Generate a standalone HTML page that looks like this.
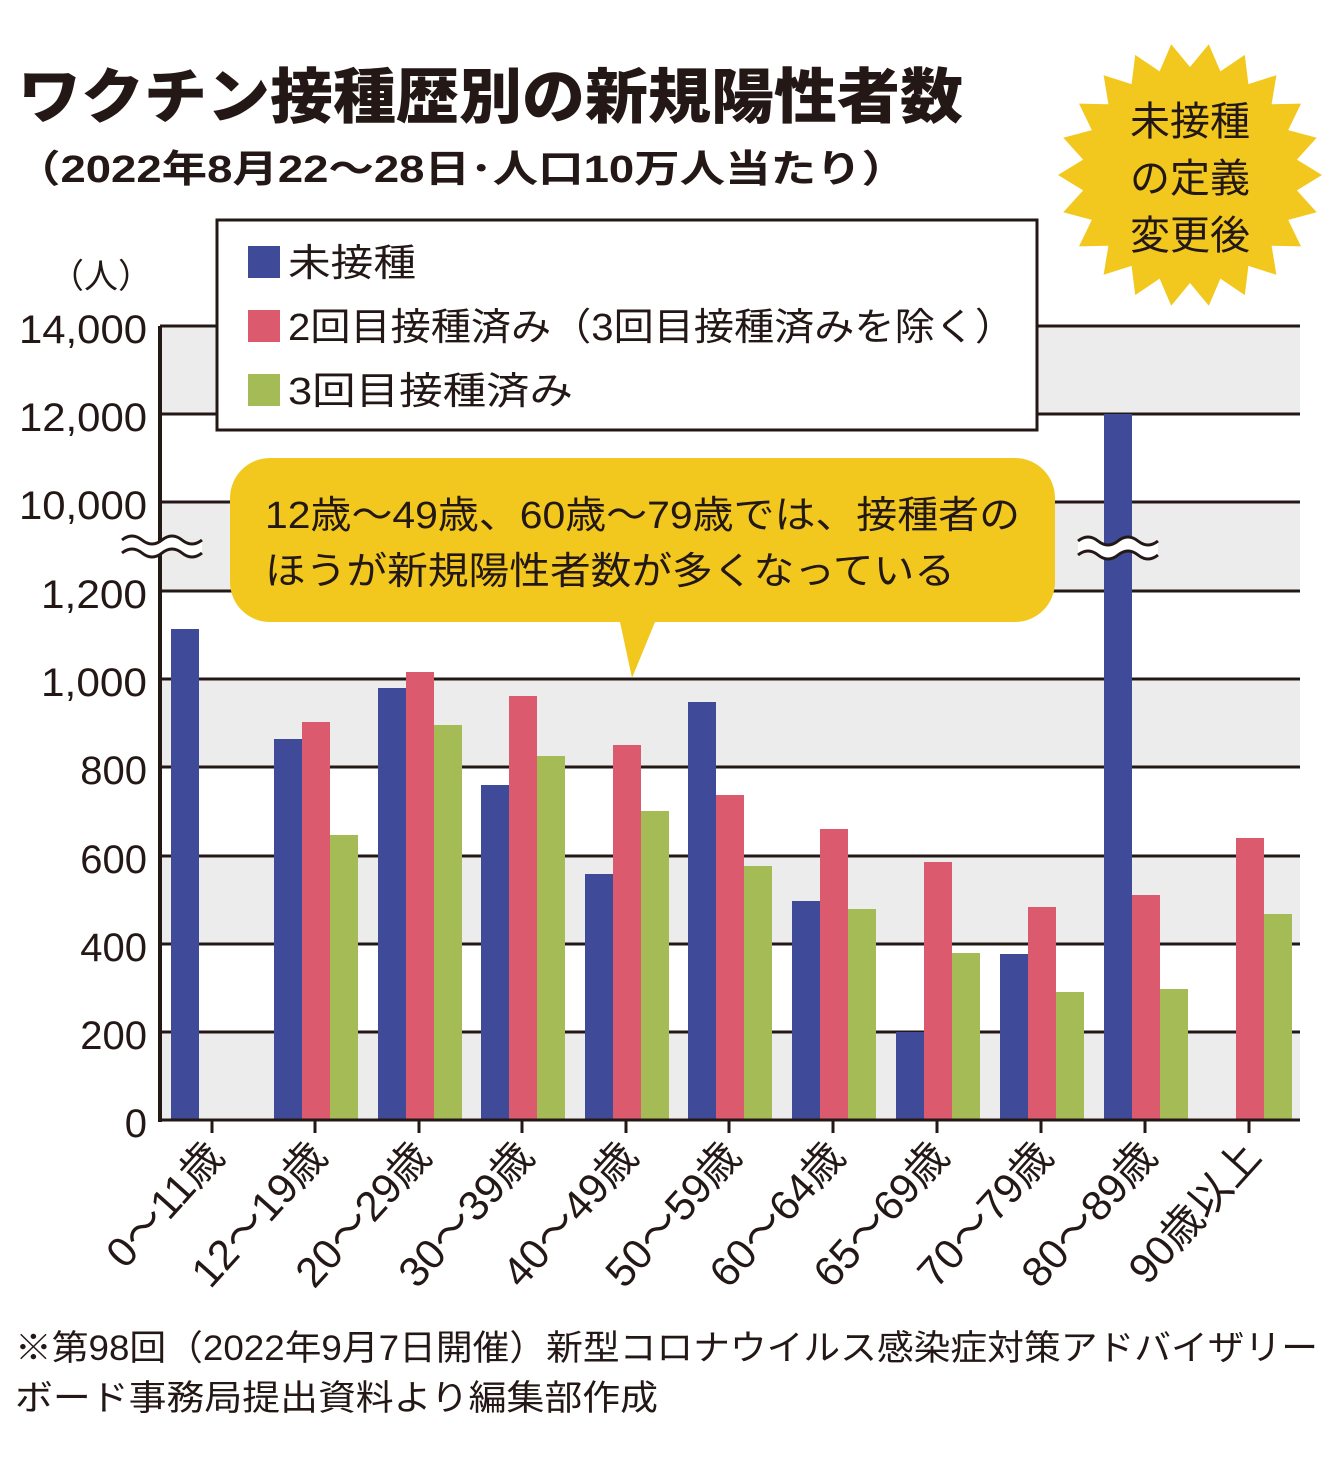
<!DOCTYPE html><html><head><meta charset="utf-8"><style>body{margin:0;background:#fff}svg{display:block}text{font-family:"Liberation Sans","Noto Sans CJK JP",sans-serif;fill:#231815}</style></head><body>
<svg width="1340" height="1470" viewBox="0 0 1340 1470">
<text x="18" y="118" font-size="60" textLength="945" lengthAdjust="spacingAndGlyphs" style="font-family:'Noto Sans CJK JP',sans-serif;font-weight:900">ワクチン接種歴別の新規陽性者数</text>
<text x="15" y="182" font-size="38" font-weight="bold" textLength="892" lengthAdjust="spacingAndGlyphs">（2022年8月22〜28日･人口10万人当たり）</text>
<polygon id="star" fill="#f2c81f" points=""/>
<g id="bands">
<rect x="160" y="326" width="1140" height="88" fill="#ececec"/>
<rect x="160" y="502" width="1140" height="89" fill="#ececec"/>
<rect x="160" y="679" width="1140" height="88" fill="#ececec"/>
<rect x="160" y="856" width="1140" height="88" fill="#ececec"/>
<rect x="160" y="1032" width="1140" height="88" fill="#ececec"/>
</g>
<g stroke="#231815" stroke-width="3">
<line x1="160" x2="1300" y1="326" y2="326"/><line x1="160" x2="1300" y1="414" y2="414"/><line x1="160" x2="1300" y1="502" y2="502"/><line x1="160" x2="1300" y1="591" y2="591"/><line x1="160" x2="1300" y1="679" y2="679"/><line x1="160" x2="1300" y1="767" y2="767"/><line x1="160" x2="1300" y1="856" y2="856"/><line x1="160" x2="1300" y1="944" y2="944"/><line x1="160" x2="1300" y1="1032" y2="1032"/>
</g>
<g font-size="40" text-anchor="end">
<text x="147" y="343" textLength="128" lengthAdjust="spacingAndGlyphs">14,000</text><text x="147" y="431" textLength="128" lengthAdjust="spacingAndGlyphs">12,000</text><text x="147" y="519" textLength="128" lengthAdjust="spacingAndGlyphs">10,000</text><text x="147" y="608" textLength="106" lengthAdjust="spacingAndGlyphs">1,200</text><text x="147" y="696" textLength="106" lengthAdjust="spacingAndGlyphs">1,000</text><text x="147" y="784">800</text><text x="147" y="873">600</text><text x="147" y="961">400</text><text x="147" y="1049">200</text><text x="147" y="1137">0</text>
</g>
<text x="50" y="288" font-size="34">（人）</text>
<g id="bars"></g>
<line x1="160" x2="160" y1="326" y2="1122" stroke="#231815" stroke-width="4"/>
<line x1="158" x2="1300" y1="1120" y2="1120" stroke="#231815" stroke-width="3"/>
<g id="ticks" stroke="#231815" stroke-width="3"></g>
<g id="xl" font-size="42"></g>
<path d="M122 540 q10 -8 20 0 t20 0 t20 0 t20 0 L202 553 q-10 8 -20 0 t-20 0 t-20 0 t-20 0 z" fill="#fff"/>
<path d="M122 540 q10 -8 20 0 t20 0 t20 0 t20 0 M122 553 q10 -8 20 0 t20 0 t20 0 t20 0" fill="none" stroke="#231815" stroke-width="3"/>
<path d="M1078 541 q10 -8 20 0 t20 0 t20 0 t20 0 L1158 555 q-10 8 -20 0 t-20 0 t-20 0 t-20 0 z" fill="#fff"/>
<path d="M1078 541 q10 -8 20 0 t20 0 t20 0 t20 0 M1078 555 q10 -8 20 0 t20 0 t20 0 t20 0" fill="none" stroke="#231815" stroke-width="3"/>
<path d="M270 458 H1015 a40 40 0 0 1 40 40 V582 a40 40 0 0 1 -40 40 H655 L632 678 L620 622 H270 a40 40 0 0 1 -40 -40 V498 a40 40 0 0 1 40 -40 z" fill="#f2c81f"/>
<text x="265" y="528" font-size="38" textLength="755" lengthAdjust="spacingAndGlyphs">12歳〜49歳、60歳〜79歳では、接種者の</text>
<text x="265" y="584" font-size="38" textLength="690" lengthAdjust="spacingAndGlyphs">ほうが新規陽性者数が多くなっている</text>
<rect x="217" y="220" width="820" height="210" fill="#fff" stroke="#231815" stroke-width="3"/>
<rect x="248" y="246" width="32" height="32" fill="#3f4a98"/><text x="288" y="276" font-size="38" textLength="128" lengthAdjust="spacingAndGlyphs">未接種</text>
<rect x="248" y="310" width="32" height="32" fill="#dc5a6e"/><text x="288" y="340" font-size="38" textLength="727" lengthAdjust="spacingAndGlyphs">2回目接種済み（3回目接種済みを除く）</text>
<rect x="248" y="374" width="32" height="32" fill="#a5bb55"/><text x="288" y="404" font-size="38" textLength="285" lengthAdjust="spacingAndGlyphs">3回目接種済み</text>
<g font-size="40" text-anchor="middle"><text x="1190" y="135">未接種</text><text x="1190" y="192">の定義</text><text x="1190" y="249">変更後</text></g>
<text x="15" y="1360" font-size="35" textLength="1303" lengthAdjust="spacingAndGlyphs">※第98回（2022年9月7日開催）新型コロナウイルス感染症対策アドバイザリー</text>
<text x="15" y="1410" font-size="35" textLength="643" lengthAdjust="spacingAndGlyphs">ボード事務局提出資料より編集部作成</text>
</svg>
<script>
var ns="http://www.w3.org/2000/svg";
function el(t,a,p,txt){var e=document.createElementNS(ns,t);for(var k in a)e.setAttribute(k,a[k]);if(txt)e.textContent=txt;document.querySelector(p).appendChild(e);return e;}
var pts=[],cx=1190,cy=175,n=22;for(var i=0;i<n*2;i++){var r=i%2?108:132,a=Math.PI*i/n;pts.push((cx+r*Math.cos(a)).toFixed(1)+","+(cy+r*Math.sin(a)).toFixed(1));}
document.getElementById('star').setAttribute('points',pts.join(' '));
var ticks=[212,315,419,522,626,729,833,937,1041,1145,1249];
var B=[629,739,688,785,874,702,901,1032,954,414,null];
var R=[null,722,672,696,745,795,829,862,907,895,838];
var G=[null,835,725,756,811,866,909,953,992,989,914];
var labels=["0〜11歳","12〜19歳","20〜29歳","30〜39歳","40〜49歳","50〜59歳","60〜64歳","65〜69歳","70〜79歳","80〜89歳","90歳以上"];
ticks.forEach(function(t,i){var x=t-41;
[[B,"#3f4a98"],[R,"#dc5a6e"],[G,"#a5bb55"]].forEach(function(s,j){var v=s[0][i];if(v!==null)el('rect',{x:x+28*j,y:v,width:28,height:1120-v,fill:s[1]},'#bars');});
el('line',{x1:t,x2:t,y1:1120,y2:1133},'#ticks');
el('text',{x:t+14,y:1158,'text-anchor':'end',transform:'rotate(-48 '+(t+14)+' 1158)'},'#xl',labels[i]);
});
</script>
</body></html>
